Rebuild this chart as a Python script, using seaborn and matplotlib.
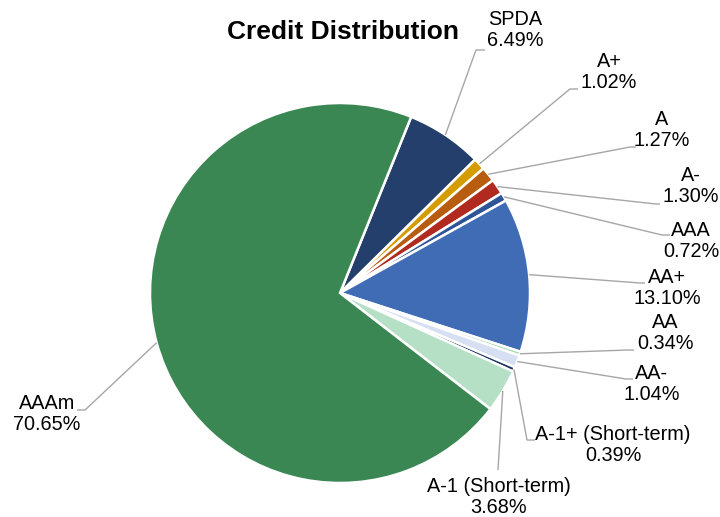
import matplotlib
matplotlib.use("Agg")
import matplotlib.pyplot as plt
import seaborn as sns
import numpy as np

# ---- data ----
categories = ["SPDA", "A+", "A", "A-", "AAA", "AA+", "AA", "AA-",
              "A-1+ (Short-term)", "A-1 (Short-term)", "AAAm"]
values = [6.49, 1.02, 1.27, 1.30, 0.72, 13.10, 0.34, 1.04, 0.39, 3.68, 70.65]
title = "Credit Distribution"

# ---- style ----
colors = ["#243F6B", "#D49C00", "#B85C10", "#B12A1F", "#2E5597", "#3F6CB4",
          "#A8D9B8", "#D6E0F2", "#1F3864", "#B5E0C6", "#3A8753"]

sns.set_theme(style="white")
plt.rcParams['font.family'] = ['Liberation Sans', 'DejaVu Sans']

W, H = 720, 517
CX, CY, R = 340, 293, 190

# label layout in pixels: text centre, elbow point, end of horizontal segment
layout = {
    "SPDA": ((515, 30), (476, 50), (485, 50)),
    "A+": ((609, 72), (570, 89), (578, 89)),
    "A": ((662, 130), (630, 147), (636, 147)),
    "A-": ((691, 186), (656, 204), (660, 204)),
    "AAA": ((691, 241), (662, 235), (670, 235)),
    "AA+": ((667, 288), (640, 283), (645, 283)),
    "AA": ((665, 333), (628, 350), (634, 350)),
    "AA-": ((652, 384), (626, 379), (633, 379)),
    "A-1+ (Short-term)": ((613, 445), (527, 440), (535, 440)),
    "A-1 (Short-term)": ((499, 497), (498, 470), (498, 470)),
    "AAAm": ((47, 414), (85, 410), (77, 410)),
}


def P(x, y):
    return ((x - CX) / R, (CY - y) / R)


fig = plt.figure(figsize=(7.2, 5.17), dpi=100)
ax = fig.add_axes([0, 0, 1, 1])
wedges, _ = ax.pie(values, colors=colors, startangle=68, counterclock=False,
                   radius=1, center=(0, 0),
                   wedgeprops=dict(edgecolor="white", linewidth=1.8))
ax.set_xlim(-CX / R, (W - CX) / R)
ax.set_ylim((CY - H) / R, CY / R)
ax.set_aspect("equal")
ax.axis("off")

for w, cat, val in zip(wedges, categories, values):
    mid = np.deg2rad((w.theta1 + w.theta2) / 2)
    sx, sy = np.cos(mid), np.sin(mid)
    (tx, ty), (ex, ey), (hx, hy) = layout[cat]
    e = P(ex, ey)
    h = P(hx, hy)
    ax.plot([sx, e[0], h[0]], [sy, e[1], h[1]], color="#A6A6A6", lw=1.0,
            solid_capstyle="butt", zorder=1)
    t = P(tx, ty)
    ax.text(t[0], t[1], f"{cat}\n{val:.2f}%", ha="center", va="center",
            fontsize=14.3, color="#000000", linespacing=1.15)

fig.text(343 / W, 1 - 32 / H, title, ha="center", va="center",
         fontsize=19, fontweight="bold", color="#000000")

fig.savefig("out.png", dpi=100, facecolor="white")
